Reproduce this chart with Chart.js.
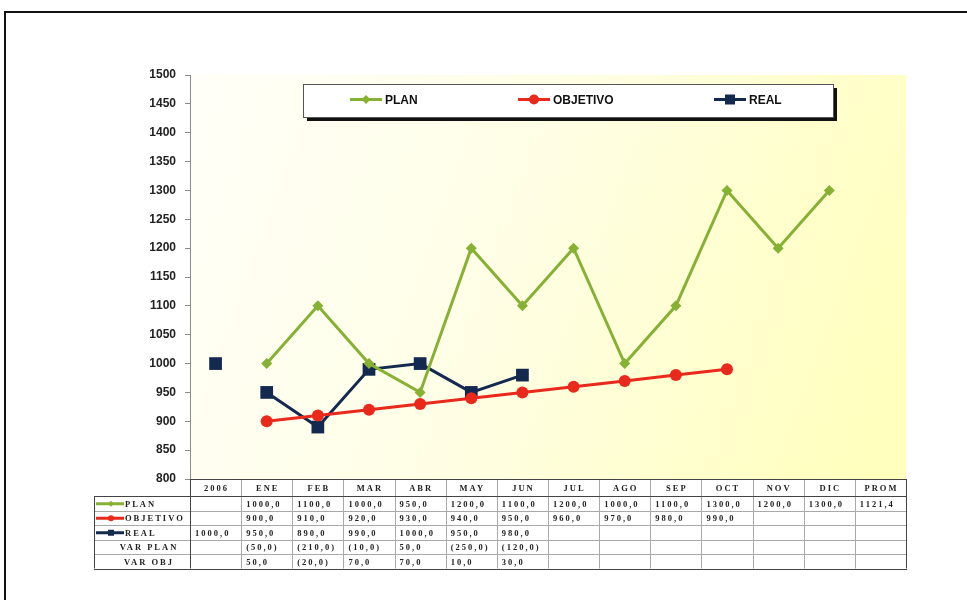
<!DOCTYPE html>
<html>
<head>
<meta charset="utf-8">
<script src="https://cdn.jsdelivr.net/npm/chart.js@4.4.0/dist/chart.umd.min.js"></script>
<style>
  html, body { margin: 0; padding: 0; background: #fff; }
  #wrap { position: relative; width: 967px; height: 600px; overflow: hidden; }
  #frame { position: absolute; left: 4px; top: 11px; width: 1000px; height: 700px;
           border-left: 2px solid #111; border-top: 2px solid #111; }
  canvas { position: absolute; left: 0; top: 0; }
</style>
</head>
<body>
<div id="wrap">
  <div id="frame"></div>
  <canvas id="chart" width="967" height="600"></canvas>
</div>
<script>
// Columns of the chart and of the data table
const categories = ['2006', 'ENE', 'FEB', 'MAR', 'ABR', 'MAY', 'JUN', 'JUL', 'AGO', 'SEP', 'OCT', 'NOV', 'DIC', 'PROM'];

// Series values (null = no point)
const planValues     = [null, 1000, 1100, 1000, 950, 1200, 1100, 1200, 1000, 1100, 1300, 1200, 1300, null];
const objetivoValues = [null, 900, 910, 920, 930, 940, 950, 960, 970, 980, 990, null, null, null];
const realValues     = [1000, 950, 890, 990, 1000, 950, 980, null, null, null, null, null, null, null];

// Extra figures shown only in the table
const planPromedio  = 1121.4;
const varPlanValues = [null, -50, -210, -10, 50, -250, -120, null, null, null, null, null, null, null];
const varObjValues  = [null, 50, -20, 70, 70, 10, 30, null, null, null, null, null, null, null];

// Y axis range
const yMin = 800;
const yMax = 1500;
const yStep = 50;

const GREEN = '#86b135';
const RED = '#e8291c';
const NAVY = '#13294f';

// "1000,0" / "(50,0)" style formatting
function fmt(v) {
    if (v === null || v === undefined) return '';
    const s = Math.abs(v).toFixed(1).replace('.', ',');
    return v < 0 ? '(' + s + ')' : s;
}

// Small marker drawing used by legend and table labels
function drawMarker(ctx, style, x, y, r, color) {
    ctx.save();
    ctx.fillStyle = color;
    ctx.beginPath();
    if (style === 'circle') {
        ctx.arc(x, y, r, 0, Math.PI * 2);
    } else if (style === 'rect') {
        ctx.rect(x - r, y - r, r * 2, r * 2);
    } else {
        ctx.moveTo(x, y - r);
        ctx.lineTo(x + r, y);
        ctx.lineTo(x, y + r);
        ctx.lineTo(x - r, y);
        ctx.closePath();
    }
    ctx.fill();
    ctx.restore();
}

// Plot background: pale yellow gradient
const backgroundPlugin = {
    id: 'plotBackground',
    beforeDraw(chart) {
        const { ctx, chartArea: a } = chart;
        const g = ctx.createLinearGradient(a.left, a.top, a.right, a.top + 260);
        g.addColorStop(0, '#fffff8');
        g.addColorStop(0.45, '#fffee6');
        g.addColorStop(1, '#ffffbe');
        ctx.save();
        ctx.fillStyle = g;
        ctx.fillRect(a.left, a.top, a.right - a.left, a.bottom - a.top);
        ctx.restore();
    }
};

// Legend box drawn inside the plot
const legendBoxPlugin = {
    id: 'legendBox',
    afterDraw(chart) {
        const ctx = chart.ctx;
        const box = { x: 303, y: 84, w: 530, h: 33 };
        const starts = [350, 518, 714];
        ctx.save();
        ctx.fillStyle = '#111';
        ctx.fillRect(box.x + 4, box.y + 4, box.w, box.h);
        ctx.fillStyle = '#fff';
        ctx.fillRect(box.x, box.y, box.w, box.h);
        ctx.strokeStyle = '#555';
        ctx.lineWidth = 1;
        ctx.strokeRect(box.x + 0.5, box.y + 0.5, box.w, box.h);
        const cy = box.y + box.h / 2 - 1;
        chart.data.datasets.forEach((ds, i) => {
            const x0 = starts[i];
            ctx.strokeStyle = ds.borderColor;
            ctx.lineWidth = 3;
            ctx.beginPath();
            ctx.moveTo(x0, cy);
            ctx.lineTo(x0 + 32, cy);
            ctx.stroke();
            const r = ds.pointStyle === 'rect' ? 5 : (ds.pointStyle === 'circle' ? 5 : 4.5);
            drawMarker(ctx, ds.pointStyle, x0 + 16, cy, r, ds.borderColor);
            ctx.fillStyle = '#111';
            ctx.font = 'bold 12px "Liberation Sans", Arial, sans-serif';
            ctx.textBaseline = 'middle';
            ctx.textAlign = 'left';
            ctx.fillText(ds.label, x0 + 35, cy + 1);
        });
        ctx.restore();
    }
};

// Data table under the plot
const tablePlugin = {
    id: 'dataTable',
    afterDraw(chart) {
        const { ctx, chartArea: a } = chart;
        const xs = chart.scales.x;
        const n = categories.length;
        const colW = (a.right - a.left) / n;
        const top = a.bottom;
        const headerH = 17;
        const rowH = 14.5;
        const labelLeft = 94;
        const planRow = planValues.map((v, i) => i === n - 1 ? planPromedio : v);
        const rows = [
            { label: 'PLAN', color: GREEN, style: 'rectRot', vals: planRow },
            { label: 'OBJETIVO', color: RED, style: 'circle', vals: objetivoValues },
            { label: 'REAL', color: NAVY, style: 'rect', vals: realValues },
            { label: 'VAR PLAN', vals: varPlanValues },
            { label: 'VAR OBJ', vals: varObjValues }
        ];
        const bottom = top + headerH + rows.length * rowH;

        ctx.save();
        ctx.letterSpacing = '2px';
        ctx.textBaseline = 'middle';

        // inner grid
        ctx.strokeStyle = '#a9a9a9';
        ctx.lineWidth = 1;
        ctx.beginPath();
        for (let r = 1; r < rows.length; r++) {
            const y = Math.round(top + headerH + r * rowH) + 0.5;
            ctx.moveTo(labelLeft, y);
            ctx.lineTo(a.right, y);
        }
        for (let i = 1; i < n; i++) {
            const x = Math.round(xs.getPixelForValue(i) - colW / 2) + 0.5;
            ctx.moveTo(x, top);
            ctx.lineTo(x, bottom);
        }
        ctx.stroke();

        // outer lines
        ctx.strokeStyle = '#444';
        ctx.beginPath();
        ctx.moveTo(a.left, top + 0.5);
        ctx.lineTo(a.right, top + 0.5);
        ctx.moveTo(labelLeft, Math.round(top + headerH) + 0.5);
        ctx.lineTo(a.right, Math.round(top + headerH) + 0.5);
        ctx.moveTo(labelLeft, Math.round(bottom) + 0.5);
        ctx.lineTo(a.right + 1, Math.round(bottom) + 0.5);
        ctx.moveTo(labelLeft + 0.5, top + headerH);
        ctx.lineTo(labelLeft + 0.5, bottom);
        ctx.moveTo(Math.round(a.left) + 0.5, top);
        ctx.lineTo(Math.round(a.left) + 0.5, bottom);
        ctx.moveTo(Math.round(a.right) + 0.5, top);
        ctx.lineTo(Math.round(a.right) + 0.5, bottom);
        ctx.stroke();

        // header labels
        ctx.fillStyle = '#222';
        ctx.font = 'bold 8.5px "Liberation Serif", "Times New Roman", serif';
        ctx.textAlign = 'center';
        categories.forEach((c, i) => {
            ctx.fillText(c, xs.getPixelForValue(i) + 1, top + headerH / 2 + 1);
        });

        // rows
        rows.forEach((row, r) => {
            const cy = top + headerH + r * rowH + rowH / 2 + 0.5;
            if (row.color) {
                ctx.strokeStyle = row.color;
                ctx.lineWidth = 3;
                ctx.beginPath();
                ctx.moveTo(labelLeft + 2, cy);
                ctx.lineTo(labelLeft + 30, cy);
                ctx.stroke();
                drawMarker(ctx, row.style, labelLeft + 17, cy, 3, row.color);
                ctx.textAlign = 'left';
                ctx.fillStyle = '#222';
                ctx.fillText(row.label, labelLeft + 31, cy + 1);
            } else {
                ctx.textAlign = 'center';
                ctx.fillStyle = '#222';
                ctx.fillText(row.label, labelLeft + 55, cy + 1);
            }
            ctx.textAlign = 'left';
            row.vals.forEach((v, i) => {
                if (v === null) return;
                ctx.fillText(fmt(v), xs.getPixelForValue(i) - colW / 2 + 5, cy + 1);
            });
        });
        ctx.restore();
    }
};

new Chart(document.getElementById('chart'), {
    type: 'line',
    data: {
        labels: categories,
        datasets: [
            {
                label: 'PLAN',
                data: planValues,
                borderColor: GREEN,
                backgroundColor: GREEN,
                borderWidth: 3,
                pointStyle: 'rectRot',
                pointRadius: 5.5,
                pointBorderWidth: 0,
                tension: 0
            },
            {
                label: 'OBJETIVO',
                data: objetivoValues,
                borderColor: RED,
                backgroundColor: RED,
                borderWidth: 3,
                pointStyle: 'circle',
                pointRadius: 6,
                pointBorderWidth: 0,
                tension: 0
            },
            {
                label: 'REAL',
                data: realValues,
                borderColor: NAVY,
                backgroundColor: NAVY,
                borderWidth: 3,
                pointStyle: 'rect',
                pointRadius: 9,
                pointBorderWidth: 0,
                tension: 0,
                // the 2006 point stands alone
                segment: {
                    borderColor: c => c.p0DataIndex === 0 ? 'rgba(0,0,0,0)' : undefined
                }
            }
        ]
    },
    options: {
        responsive: false,
        animation: false,
        devicePixelRatio: 1,
        layout: { padding: { left: 0, top: 75, right: 61, bottom: 121 } },
        plugins: {
            legend: { display: false },
            tooltip: { enabled: false }
        },
        scales: {
            x: {
                display: false,
                offset: true
            },
            y: {
                min: yMin,
                max: yMax,
                afterFit(scale) { scale.width = 190; },
                border: { display: true, color: '#8a8a8a', width: 1 },
                grid: { drawOnChartArea: false, drawTicks: true, tickLength: 5, color: '#8a8a8a' },
                ticks: {
                    stepSize: yStep,
                    padding: 9,
                    color: '#222',
                    font: { family: '"Liberation Sans", Arial, sans-serif', size: 12, weight: 'bold' },
                    callback: v => String(v)
                }
            }
        }
    },
    plugins: [backgroundPlugin, legendBoxPlugin, tablePlugin]
});
</script>
</body>
</html>
